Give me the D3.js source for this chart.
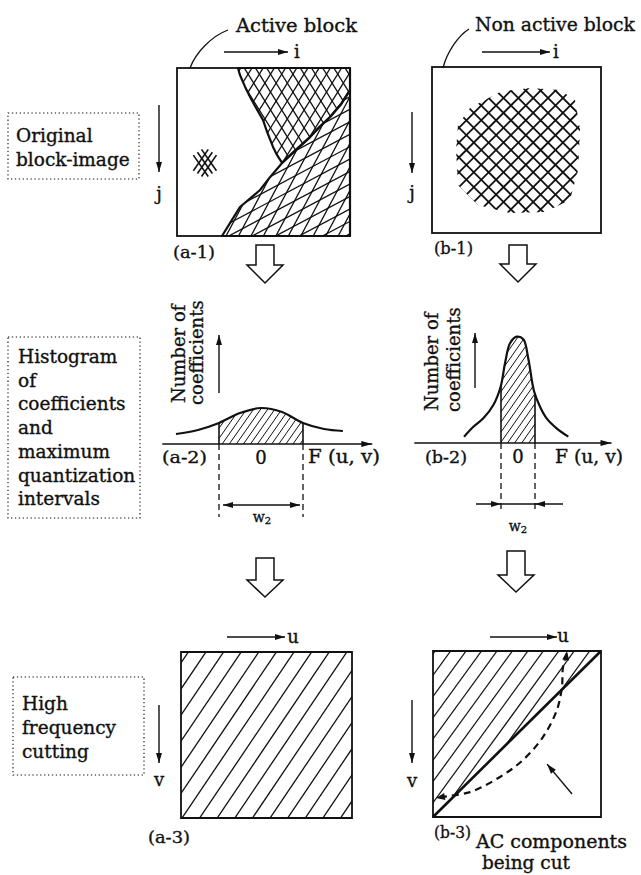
<!DOCTYPE html>
<html><head><meta charset="utf-8">
<script src="https://cdn.jsdelivr.net/npm/d3@7"></script>
<style>
body{margin:0;background:#fff}
svg{display:block}
text{font-family:"DejaVu Serif",serif;fill:#111;stroke:#111;stroke-width:0.35px}
</style>
</head><body>
<svg id="c" width="641" height="875"></svg>
<script>
// ---------------- data ----------------
const stepTitles = [
  ["Original", "block-image"],
  ["Histogram", "of", "coefficients", "and", "maximum", "quantization", "intervals"],
  ["High", "frequency", "cutting"]
];
const blockTitles = ["Active block", "Non active block"];
const panelLabels = ["(a-1)", "(b-1)", "(a-2)", "(b-2)", "(a-3)", "(b-3)"];
const spatialAxes = ["i", "j"];
const freqAxes = ["u", "v"];
const histYLabel = ["Number of", "coefficients"];
const histXLabel = "F (u, v)";
const zeroLabel = "0";
const widthLabel = ["w", "2"];
const acLabel = ["AC components", "being cut"];
const blockSize = 8;

// block-image regions (block units 0..8)
const a1Upper = [[2.82,0],[2.9,0.3],[3.01,0.57],[3.15,0.9],[3.38,1.38],[3.6,1.8],[3.98,2.48],[4.15,3.0],[4.44,3.76],[4.6,4.1],[4.86,4.52],
                 [5.5,3.9],[6.15,3.29],[6.6,2.8],[7.08,2.33],[7.6,1.7],[8,1.05],[8,0]];
const a1Lower = [[4.86,4.52],[4.3,5.2],[3.84,5.81],[3.4,6.2],[2.91,6.62],[2.5,7.3],[2.08,8],[8,8],[8,1.05],[7.6,1.7],[7.08,2.33],[6.6,2.8],[6.15,3.29],[5.5,3.9]];
const a1Mark = [1.29, 4.52];
const b1Texture = [[1.8,1.98],[3.22,1.2],[4.64,1.01],[6.06,1.11],[6.77,1.59],[7.01,3.04],[6.91,4.96],[6.53,6.41],[5.35,6.99],[3.69,7.04],[2.18,6.65],[1.23,5.69],[1.14,4.0],[1.23,2.8]];

// coefficient histograms: [F(u,v), count]
const histA = [[-4.05,1.0],[-3,1.4],[-2,2.1],[-1,3.1],[0,3.6],[1,3.2],[2,2.1],[3,1.5],[3.9,1.3]];
const histB = [[-6.35,0.63],[-5.25,1.63],[-4.08,2.47],[-2.9,3.8],[-2.04,5.63],[-1.53,7.97],[-0.94,9.97],[-0.16,10.63],
               [0.63,10.37],[1.22,8.4],[1.88,5.2],[2.59,3.63],[3.37,2.47],[4.55,1.47],[5.92,0.63]];
const windowA = [-2, 2];
const windowB = [-2, 2];
const axisSpanA = [-4.7, 5.3];
const axisSpanB = [-12.2, 11.0];

// high-frequency cutting (block units)
const b3Diagonal = [[0,8],[8,0]];
const b3Kept = [[0,0],[8,0],[0,8]];
const b3CutCurve = [[0.33,7.04],[1.76,6.8],[3.19,6.07],[4.29,5.25],[5.24,4.14],[5.9,2.84],[6.14,1.73],[6.19,0.77],[6.38,0.1]];
const acPointer = [[6.62,6.89],[5.43,5.45]];

// ---------------- drawing ----------------
const svg = d3.select("#c");
const defs = svg.append("defs");
const INK = "#111";
let cid = 0;
function clipUrl(d){ const id = "cp" + (cid++); defs.append("clipPath").attr("id", id).append("path").attr("d", d); return `url(#${id})`; }
function hatch(g, cx, cy, R, angle, spacing, width){
  const a = angle * Math.PI / 180, dx = Math.cos(a), dy = -Math.sin(a), nx = Math.sin(a), ny = Math.cos(a);
  g.selectAll(null).data(d3.range(-R, R + 0.01, spacing)).join("line")
    .attr("x1", t => cx + nx*t - dx*R).attr("y1", t => cy + ny*t - dy*R)
    .attr("x2", t => cx + nx*t + dx*R).attr("y2", t => cy + ny*t + dy*R)
    .attr("stroke", INK).attr("stroke-width", width);
}
function head(tip, from, len = 9, half = 3){
  const vx = tip[0]-from[0], vy = tip[1]-from[1], L = Math.hypot(vx, vy), ux = vx/L, uy = vy/L;
  const bx = tip[0]-ux*len, by = tip[1]-uy*len;
  svg.append("path").attr("d", `M${tip[0]},${tip[1]}L${bx-uy*half},${by+ux*half}L${bx+uy*half},${by-ux*half}Z`).attr("fill", INK);
}
function arrow(p1, p2, w = 1.4, len = 10, half = 3){
  svg.append("line").attr("x1", p1[0]).attr("y1", p1[1]).attr("x2", p2[0]).attr("y2", p2[1]).attr("stroke", INK).attr("stroke-width", w);
  head(p2, p1, len, half);
}
function text(x, y, s, size, opts = {}){
  const t = svg.append("text").attr("x", x).attr("y", y).attr("font-size", size).text(s);
  if (opts.anchor) t.attr("text-anchor", opts.anchor);
  if (opts.len) t.attr("textLength", opts.len).attr("lengthAdjust", "spacingAndGlyphs");
  return t;
}
function dottedBox(x0, y0, x1, y1){
  svg.append("rect").attr("x", x0).attr("y", y0).attr("width", x1-x0).attr("height", y1-y0)
    .attr("fill", "none").attr("stroke", INK).attr("stroke-width", 1.1).attr("stroke-dasharray", "1.3,2.6");
}
function hollowDown(cx, top, flare, tip){
  svg.append("path").attr("d", `M${cx-9},${top}L${cx+9},${top}L${cx+9},${flare}L${cx+18},${flare}L${cx},${tip}L${cx-18},${flare}L${cx-9},${flare}Z`)
    .attr("fill", "#fff").attr("stroke", INK).attr("stroke-width", 1.5).attr("stroke-linejoin", "miter");
}
function polyPath(pts, sx, sy){ return d3.line().x(d => sx(d[0])).y(d => sy(d[1]))(pts) + "Z"; }

// ---- step titles (left column) ----
dottedBox(8, 113, 139, 179);
stepTitles[0].forEach((s, k) => text(16, 142 + k*24, s, 18.5));
dottedBox(8, 337, 140, 518);
stepTitles[1].forEach((s, k) => text(18, 363 + k*23.7, s, 18.5));
dottedBox(13, 677, 144, 775);
stepTitles[2].forEach((s, k) => text(22, 710 + k*24, s, 18.5));

// ---- row 1: block images ----
const a1i = d3.scaleLinear([0, blockSize], [177, 350]);
const a1j = d3.scaleLinear([0, blockSize], [68, 236]);
const b1i = d3.scaleLinear([0, blockSize], [432, 601]);
const b1j = d3.scaleLinear([0, blockSize], [67, 233]);

const upD = polyPath(a1Upper, a1i, a1j), loD = polyPath(a1Lower, a1i, a1j);
const gU = svg.append("g").attr("clip-path", clipUrl(upD));
hatch(gU, 300, 110, 120, 58, 9.5, 1.3);
hatch(gU, 300, 110, 120, 122, 9.5, 1.3);
const gL = svg.append("g").attr("clip-path", clipUrl(loD));
hatch(gL, 300, 180, 160, 62, 11, 1.3);
hatch(gL, 300, 180, 160, 28, 11, 1.3);
svg.append("path").attr("d", upD).attr("fill", "none").attr("stroke", INK).attr("stroke-width", 2.2).attr("stroke-linejoin", "round");
svg.append("path").attr("d", loD).attr("fill", "none").attr("stroke", INK).attr("stroke-width", 2.2).attr("stroke-linejoin", "round");
{
  const mx = a1i(a1Mark[0]), my = a1j(a1Mark[1]);
  [55, 125].forEach(ang => {
    const a = ang*Math.PI/180, dx = Math.cos(a)*13, dy = -Math.sin(a)*13, nx = Math.sin(a), ny = Math.cos(a);
    [-5, 0, 5].forEach(t => svg.append("line")
      .attr("x1", mx + nx*t - dx).attr("y1", my + ny*t - dy).attr("x2", mx + nx*t + dx).attr("y2", my + ny*t + dy)
      .attr("stroke", INK).attr("stroke-width", 1.6));
  });
}
svg.append("rect").attr("x", a1i(0)).attr("y", a1j(0)).attr("width", a1i(8)-a1i(0)).attr("height", a1j(8)-a1j(0))
  .attr("fill", "none").attr("stroke", INK).attr("stroke-width", 1.8);

const bD = polyPath(b1Texture, b1i, b1j);
const gB = svg.append("g").attr("clip-path", clipUrl(bD));
hatch(gB, 518, 150, 110, 45, 10.5, 1.8);
hatch(gB, 518, 150, 110, 135, 10.5, 1.8);
svg.append("rect").attr("x", b1i(0)).attr("y", b1j(0)).attr("width", b1i(8)-b1i(0)).attr("height", b1j(8)-b1j(0))
  .attr("fill", "none").attr("stroke", INK).attr("stroke-width", 1.8);

text(236, 32, blockTitles[0], 19, {len: 121});
text(475, 31, blockTitles[1], 19, {len: 160});
svg.append("path").attr("d", "M228,30C212,36 196,52 190,68").attr("fill", "none").attr("stroke", INK).attr("stroke-width", 1.3);
svg.append("path").attr("d", "M469,29C458,36 447,52 443,68").attr("fill", "none").attr("stroke", INK).attr("stroke-width", 1.3);
arrow([224, 52], [288, 52]); text(297, 58, spatialAxes[0], 18, {anchor: "middle"});
arrow([482, 52], [550, 52]); text(556, 58, spatialAxes[0], 18, {anchor: "middle"});
arrow([159, 105], [159, 172]); text(159, 200, spatialAxes[1], 18, {anchor: "middle"});
arrow([412, 112], [412, 173]); text(412, 199, spatialAxes[1], 18, {anchor: "middle"});
text(173, 258, panelLabels[0], 17, {len: 42});
text(434, 254, panelLabels[1], 17, {len: 39});
hollowDown(265, 245, 265, 283);
hollowDown(518, 245, 264, 282);

// ---- row 2: histograms ----
function histogram(data, win, span, sx, sy, dashEnd, yArrowX, yArrow, labelBase, labelStart){
  const line = d3.line().x(d => sx(d[0])).y(d => sy(d[1])).curve(d3.curveCatmullRom);
  const areaD = d3.area().x(d => sx(d[0])).y0(sy(0)).y1(d => sy(d[1])).curve(d3.curveCatmullRom)(data);
  const rectClip = clipUrl(`M${sx(win[0])},${sy(0)-200}H${sx(win[1])}V${sy(0)}H${sx(win[0])}Z`);
  const areaClip = clipUrl(areaD);
  const gOuter = svg.append("g").attr("clip-path", rectClip);
  const gIn = gOuter.append("g").attr("clip-path", areaClip);
  hatch(gIn, sx(0), sy(0) - 30, 90, 55, 5.8, 1);
  const gEdge = svg.append("g").attr("clip-path", areaClip);
  win.forEach(w => gEdge.append("line").attr("x1", sx(w)).attr("x2", sx(w)).attr("y1", sy(0)).attr("y2", sy(0)-200)
    .attr("stroke", INK).attr("stroke-width", 1.6));
  svg.append("path").attr("d", line(data)).attr("fill", "none").attr("stroke", INK).attr("stroke-width", 2.2);
  arrow([sx(span[0]), sy(0)], [sx(span[1]), sy(0)], 1.5, 11, 3);
  win.forEach(w => svg.append("line").attr("x1", sx(w)).attr("x2", sx(w)).attr("y1", sy(0)).attr("y2", dashEnd)
    .attr("stroke", INK).attr("stroke-width", 1.3).attr("stroke-dasharray", "6,4"));
  arrow([yArrowX, yArrow[0]], [yArrowX, yArrow[1]], 1.4, 10, 3);
  histYLabel.forEach((s, k) => svg.append("text").attr("font-size", 18)
    .attr("transform", `translate(${labelBase[k]},${labelStart[k]}) rotate(-90)`).text(s));
  text(sx(0), sy(0) + 20, zeroLabel, 18, {anchor: "middle"});
}
const a2x = d3.scaleLinear([-4, 4], [177, 345]);
const a2y = d3.scaleLinear([0, 10], [444, 344]);
const b2x = d3.scaleLinear([-2, 2], [501, 535]);
const b2y = d3.scaleLinear([0, 10], [443, 343]);
histogram(histA, windowA, axisSpanA, a2x, a2y, 517, 219, [393, 335], [185, 203], [403, 405]);
histogram(histB, windowB, axisSpanB, b2x, b2y, 510, 475, [388, 333], [438, 460], [411, 412]);
text(162, 463, panelLabels[2], 17, {len: 45});
text(425, 463, panelLabels[3], 17, {len: 42});
text(308, 463, histXLabel, 18, {len: 72});
text(555, 463, histXLabel, 18, {len: 68});
{
  const y = 505, l = a2x(windowA[0]) + 4, r = a2x(windowA[1]) - 3;
  svg.append("line").attr("x1", l).attr("x2", r).attr("y1", y).attr("y2", y).attr("stroke", INK).attr("stroke-width", 1.3);
  head([l, y], [r, y], 10, 3); head([r, y], [l, y], 10, 3);
  const t = text(262, 522, widthLabel[0], 14, {anchor: "middle"});
  t.append("tspan").attr("font-size", 10).attr("dy", 2).text(widthLabel[1]);
}
{
  const y = 504, l = b2x(windowB[0]), r = b2x(windowB[1]);
  svg.append("line").attr("x1", l - 25).attr("x2", r + 28).attr("y1", y).attr("y2", y).attr("stroke", INK).attr("stroke-width", 1.3);
  head([l, y], [l - 25, y], 10, 3); head([r, y], [r + 28, y], 10, 3);
  const t = text(518, 531, widthLabel[0], 14, {anchor: "middle"});
  t.append("tspan").attr("font-size", 10).attr("dy", 2).text(widthLabel[1]);
}
hollowDown(265, 558, 580, 597);
hollowDown(516, 551, 575, 592);

// ---- row 3: frequency blocks ----
const a3u = d3.scaleLinear([0, blockSize], [181, 352]);
const a3v = d3.scaleLinear([0, blockSize], [652, 818]);
const b3u = d3.scaleLinear([0, blockSize], [433, 601]);
const b3v = d3.scaleLinear([0, blockSize], [651, 817]);
{
  const d = polyPath([[0,0],[8,0],[8,8],[0,8]], a3u, a3v);
  const g = svg.append("g").attr("clip-path", clipUrl(d));
  hatch(g, 266, 735, 140, 56, 14.6, 1.3);
  svg.append("path").attr("d", d).attr("fill", "none").attr("stroke", INK).attr("stroke-width", 1.8);
}
{
  const d = polyPath(b3Kept, b3u, b3v);
  const g = svg.append("g").attr("clip-path", clipUrl(d));
  hatch(g, 517, 734, 140, 54, 12.5, 1.2);
  svg.append("path").attr("d", polyPath([[0,0],[8,0],[8,8],[0,8]], b3u, b3v)).attr("fill", "none").attr("stroke", INK).attr("stroke-width", 1.8);
  svg.append("path").attr("d", d3.line().x(p => b3u(p[0])).y(p => b3v(p[1]))(b3Diagonal))
    .attr("stroke", INK).attr("stroke-width", 2.6).attr("fill", "none");
  const cp = b3CutCurve.map(p => [b3u(p[0]), b3v(p[1])]);
  svg.append("path").attr("d", d3.line().curve(d3.curveCatmullRom)(cp))
    .attr("fill", "none").attr("stroke", INK).attr("stroke-width", 2.2).attr("stroke-dasharray", "7,5");
  head([cp[0][0] - 4, cp[0][1] + 1], cp[1], 9, 3.5);
  head([cp[cp.length-1][0], cp[cp.length-1][1] - 2], cp[cp.length-3], 9, 3.5);
  const ap = acPointer.map(p => [b3u(p[0]), b3v(p[1])]);
  arrow(ap[0], ap[1], 1.4, 10, 3.2);
}
arrow([227, 637], [285, 637]); text(293, 643, freqAxes[0], 18, {anchor: "middle"});
arrow([490, 637], [557, 637]); text(563, 642, freqAxes[0], 18, {anchor: "middle"});
arrow([159, 705], [159, 763]); text(159, 786, freqAxes[1], 18, {anchor: "middle"});
arrow([412, 700], [412, 763]); text(412, 787, freqAxes[1], 18, {anchor: "middle"});
text(148, 843, panelLabels[4], 17, {len: 42});
text(434, 838, panelLabels[5], 17, {len: 37});
text(476, 848, acLabel[0], 18, {len: 151});
text(482, 869, acLabel[1], 18, {len: 88});
</script>
</body></html>
